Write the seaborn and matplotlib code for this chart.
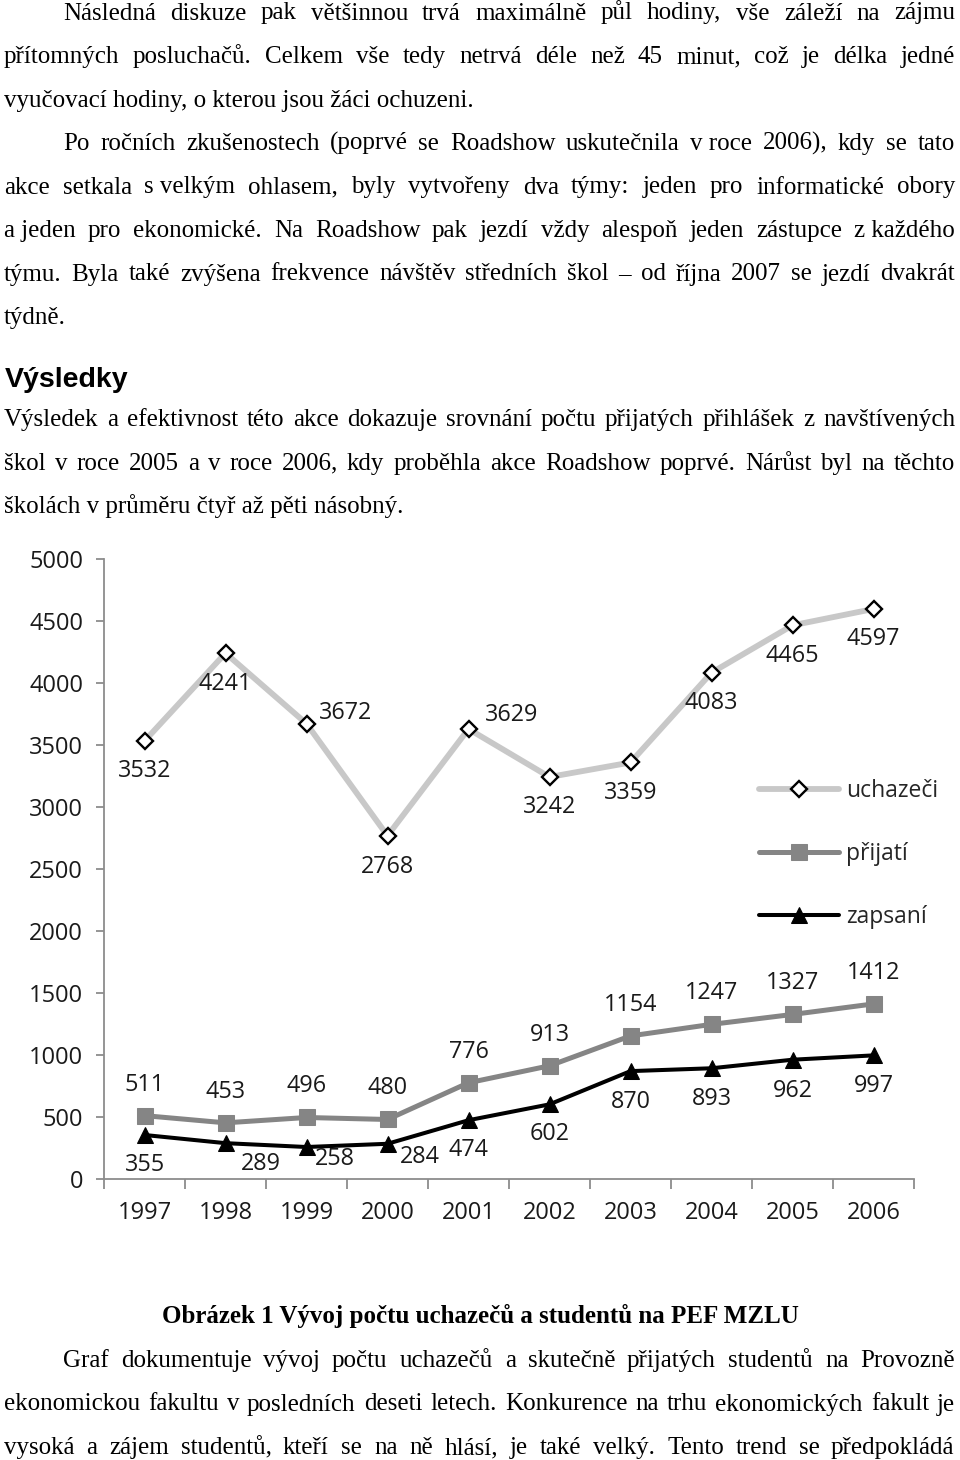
import matplotlib
matplotlib.use("Agg")
import numpy as np
import pandas as pd
import matplotlib.pyplot as plt
import seaborn as sns
from matplotlib import font_manager

# Data z grafu (PEF MZLU)
roky = [1997, 1998, 1999, 2000, 2001, 2002, 2003, 2004, 2005, 2006]
uchazeci = [3532, 4241, 3672, 2768, 3629, 3242, 3359, 4083, 4465, 4597]
prijati = [511, 453, 496, 480, 776, 913, 1154, 1247, 1327, 1412]
zapsani = [355, 289, 258, 284, 474, 602, 870, 893, 962, 997]
nazvy = ["uchazeči", "přijatí", "zapsaní"]

# Posuny popisků v pixelech (dx, dy)
off_uchazeci = [(0, -30), (0, -31), (39, 11), (0, -31), (43, 14),
                (0, -30), (0, -31), (0, -30), (0, -31), (0, -30)]
off_prijati = [(0, 31)] * 10
off_zapsani = [(0, -30), (35, -21), (28, -12), (32, -13), (0, -30),
               (0, -30), (0, -31), (0, -31), (0, -31), (0, -31)]

# Text stránky
odstavec1 = [
    ("Následná diskuze pak většinnou trvá maximálně půl hodiny, vše záleží na zájmu", True, True),
    ("přítomných posluchačů. Celkem vše tedy netrvá déle než 45 minut, což je délka jedné", False, True),
    ("vyučovací hodiny, o kterou jsou žáci ochuzeni.", False, False),
    ("Po ročních zkušenostech (poprvé se Roadshow uskutečnila v\u00a0roce 2006), kdy se tato", True, True),
    ("akce setkala s\u00a0velkým ohlasem, byly vytvořeny dva týmy: jeden pro informatické obory", False, True),
    ("a\u00a0jeden pro ekonomické. Na Roadshow pak jezdí vždy alespoň jeden zástupce z\u00a0každého", False, True),
    ("týmu. Byla také zvýšena frekvence návštěv středních škol – od října 2007 se jezdí dvakrát", False, True),
    ("týdně.", False, False),
]
nadpis = "Výsledky"
odstavec2 = [
    ("Výsledek a efektivnost této akce dokazuje srovnání počtu přijatých přihlášek z navštívených", False, True),
    ("škol v roce 2005 a v roce 2006, kdy proběhla akce Roadshow poprvé. Nárůst byl na těchto", False, True),
    ("školách v průměru čtyř až pěti násobný.", False, False),
]
popisek = "Obrázek 1 Vývoj počtu uchazečů a studentů na PEF MZLU"
odstavec3 = [
    ("Graf dokumentuje vývoj počtu uchazečů a skutečně přijatých studentů na Provozně", True, True),
    ("ekonomickou fakultu v posledních deseti letech. Konkurence na trhu ekonomických fakult je", False, True),
    ("vysoká a zájem studentů, kteří se na ně hlásí, je také velký. Tento trend se předpokládá", False, True),
]

W, H = 960, 1460
LEVY, ODSAZENI, PRAVY = 4, 63, 955
VEL = 18

# písmo jako konkrétní soubor, bez záložních rodin
serif_soubor = font_manager.findfont(font_manager.FontProperties(family="Liberation Serif"))
serif_tucne = font_manager.findfont(font_manager.FontProperties(family="Liberation Serif", weight="bold"))
sans_tucne = font_manager.findfont(font_manager.FontProperties(family="Liberation Sans", weight="bold"))
FP = font_manager.FontProperties(fname=serif_soubor, size=VEL)
FP_B = font_manager.FontProperties(fname=serif_tucne, size=VEL)
FP_H = font_manager.FontProperties(fname=sans_tucne, size=20.5)


def fx(x):
    return x / W


def fy(y):
    return 1 - y / H


def napis_radek(fig, r, text, y, odsadit, zarovnat):
    x0 = ODSAZENI if odsadit else LEVY
    kw = dict(fontproperties=FP, color="black", va="baseline", ha="left")
    if not zarovnat:
        fig.text(fx(x0), fy(y), text, **kw)
        return
    # zarovnání do bloku: slova rozmístíme rovnoměrně (na celé pixely)
    slova = text.split(" ")
    ts = [fig.text(0, fy(y), s, **kw) for s in slova]
    sirky = [t.get_window_extent(renderer=r).width for t in ts]
    mezera = (PRAVY - x0 - sum(sirky)) / (len(slova) - 1)
    x = x0
    for t, s in zip(ts, sirky):
        t.set_x(fx(round(x)))
        x += s + mezera


sns.set_style("white")
plt.rcParams["font.family"] = ["Open Sans", "DejaVu Sans"]

fig = plt.figure(figsize=(9.6, 14.6), dpi=100)
r = fig.canvas.get_renderer()

y = 19.5
for text, ods, zar in odstavec1:
    napis_radek(fig, r, text, y, ods, zar)
    y += 43.5

fig.text(fx(5), fy(387), nadpis, fontproperties=FP_H, va="baseline", ha="left", color="black")

y = 426
for text, ods, zar in odstavec2:
    napis_radek(fig, r, text, y, ods, zar)
    y += 43.5

fig.text(fx(480), fy(1323.5), popisek, fontproperties=FP_B, va="baseline", ha="center",
         color="black")

y = 1367
for text, ods, zar in odstavec3:
    napis_radek(fig, r, text, y, ods, zar)
    y += 43.5

# Graf
df = pd.DataFrame({"rok": roky, nazvy[0]: uchazeci, nazvy[1]: prijati, nazvy[2]: zapsani})

ax = fig.add_axes([fx(104), fy(1179), 810 / W, 620 / H])

sns.lineplot(data=df, x="rok", y=nazvy[0], ax=ax, color="#c8c8c8", linewidth=4.2,
             marker="D", markersize=8, markerfacecolor="white", markeredgecolor="black",
             markeredgewidth=1.7, label=nazvy[0])
sns.lineplot(data=df, x="rok", y=nazvy[1], ax=ax, color="#858585", linewidth=3.6,
             marker="s", markersize=11, markerfacecolor="#858585", markeredgecolor="#858585",
             label=nazvy[1])
sns.lineplot(data=df, x="rok", y=nazvy[2], ax=ax, color="black", linewidth=2.9,
             marker="^", markersize=12, markerfacecolor="black", markeredgecolor="black",
             label=nazvy[2])

for serie, posuny in ((uchazeci, off_uchazeci), (prijati, off_prijati), (zapsani, off_zapsani)):
    for rok, hodnota, (dx, dy) in zip(roky, serie, posuny):
        ax.annotate(str(hodnota), (rok, hodnota), xytext=(dx, dy), textcoords="offset pixels",
                    ha="center", va="center", fontsize=16.8, color="#1a1a1a")

ax.set_xlim(1996.5, 2006.5)
ax.set_ylim(0, 5000)
ax.set_yticks(np.arange(0, 5001, 500))
ax.set_xticks(roky)
ax.set_xticks(np.arange(1996.5, 2007, 1), minor=True)
ax.set_xlabel("")
ax.set_ylabel("")

for s in ("top", "right"):
    ax.spines[s].set_visible(False)
for s in ("left", "bottom"):
    ax.spines[s].set_color("#8c8c8c")
    ax.spines[s].set_linewidth(1.3)

ax.tick_params(axis="y", which="major", left=True, length=6, width=1.3, color="#8c8c8c",
               pad=9, labelsize=17, labelcolor="#1a1a1a")
ax.tick_params(axis="x", which="major", bottom=True, length=0, pad=16, labelsize=17,
               labelcolor="#1a1a1a")
ax.tick_params(axis="x", which="minor", bottom=True, length=7.5, width=1.3, color="#8c8c8c")

ax.legend(loc="center left", bbox_to_anchor=(fx(759), fy(854)), bbox_transform=fig.transFigure,
          frameon=False, fontsize=16.5, handlelength=3.5, handletextpad=0.3,
          labelspacing=1.72, borderpad=0, borderaxespad=0)

fig.savefig("out.png", dpi=100)
